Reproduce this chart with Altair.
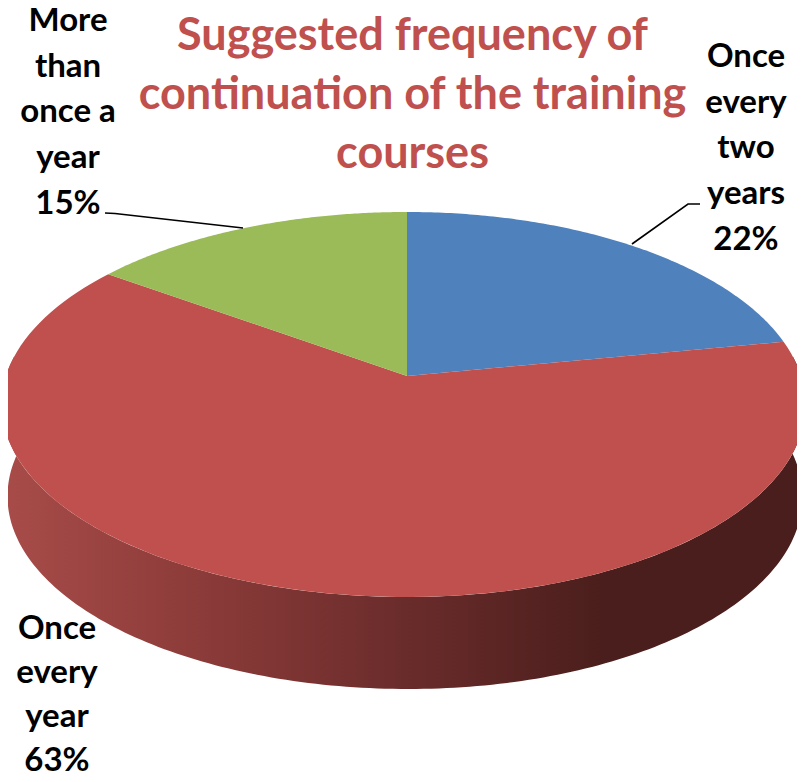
import math
import altair as alt

# Values
categories = ["Once every two years", "Once every year", "More than once a year"]
shares = [22, 63, 15]
slice_colors = ["#4f81bd", "#c0504d", "#9bbb59"]
label_texts = ["Once\nevery\ntwo\nyears\n22%", "Once\nevery\nyear\n63%", "More\nthan\nonce a\nyear\n15%"]
title_lines = ["Suggested frequency of", "continuation of the training", "courses"]
side_stops = [(0.0, "#a84c49"), (0.25, "#8b3b39"), (0.5, "#6a2c2b"), (0.75, "#4a1e1c"), (1.0, "#4a1e1c")]

W, H = 789, 766
M = 8  # page margin
APEX = (407, 376)
A, B, K = 397.6, 188.3, 0.148
DEPTH = 92


def rim(theta):
    X, Y = math.sin(theta), math.cos(theta)
    d = 1 + K * Y
    return [APEX[0] - M + A * X / d - 3.5 * abs(X), APEX[1] - M - B * Y / d]


def arc(t0, t1, n=120):
    return [rim(t0 + (t1 - t0) * i / n) for i in range(n + 1)]


def feature(name, coords, kind="Polygon"):
    geom = {"type": kind, "coordinates": [coords] if kind == "Polygon" else coords}
    return {"type": "Feature", "properties": {"name": name}, "geometry": geom}


features = []
start = 0.0
for cat, share in zip(categories, shares):
    end = start + 2 * math.pi * share / sum(shares)
    apex = [APEX[0] - M, APEX[1] - M]
    features.append(feature(cat, [apex] + arc(start, end) + [apex]))
    start = end

# Rim wall: front half of the disc, pushed down by the depth
front_from, front_to = math.radians(276), math.radians(84)
upper = arc(front_from, front_to, 200)
lower = [[p[0] * 0.9888 + 5.9, p[1] + DEPTH] for p in upper]
side = [feature("side", upper + lower[::-1] + [upper[0]])]

leaders = [
    feature("a", [[632 - M, 244 - M], [688 - M, 204 - M], [700 - M, 204 - M]], "LineString"),
    feature("b", [[105 - M, 213 - M], [115 - M, 213.5 - M], [243 - M, 228 - M]], "LineString"),
]

projection = dict(type="identity", scale=1, translate=[0, 0])

side_layer = alt.Chart(alt.Data(values=side)).mark_geoshape(
    stroke=None,
    fill=alt.Gradient(
        gradient="linear", x1=0, x2=1, y1=0, y2=0,
        stops=[alt.GradientStop(offset=o, color=c) for o, c in side_stops],
    ),
).project(**projection)

slice_layer = alt.Chart(alt.Data(values=features)).mark_geoshape(stroke=None).encode(
    color=alt.Color("properties.name:N",
                    scale=alt.Scale(domain=categories, range=slice_colors), legend=None)
).project(**projection)

leader_layer = alt.Chart(alt.Data(values=leaders)).mark_geoshape(
    filled=False, stroke="black", strokeWidth=1.6
).project(**projection)

label_style = dict(font="Lato", fontWeight="bold", fontSize=33, color="black",
                   align="center", baseline="middle", lineBreak="\n")


def label(text, x, y, line_height=45.7):
    return alt.Chart(alt.Data(values=[{"t": text}])).mark_text(
        lineHeight=line_height, **label_style
    ).encode(text="t:N", x=alt.value(x - M), y=alt.value(y - M))


chart = alt.layer(
    side_layer, slice_layer, leader_layer,
    label(label_texts[0], 746, 57),
    label(label_texts[1], 57, 629, 44),
    label(label_texts[2], 68, 21),
).properties(
    width=W, height=H, padding=0, autosize=alt.AutoSizeParams(type="none"),
    title=alt.TitleParams(
        text=title_lines, font="Lato", fontWeight="bold", fontSize=45, color="#c0504d",
        lineHeight=59, anchor="middle", frame="group", baseline="top", offset=0,
        dx=10, dy=172,
    ),
).configure_view(stroke=None)

chart.save("out.html", embed_options={"renderer": "svg", "actions": False})
